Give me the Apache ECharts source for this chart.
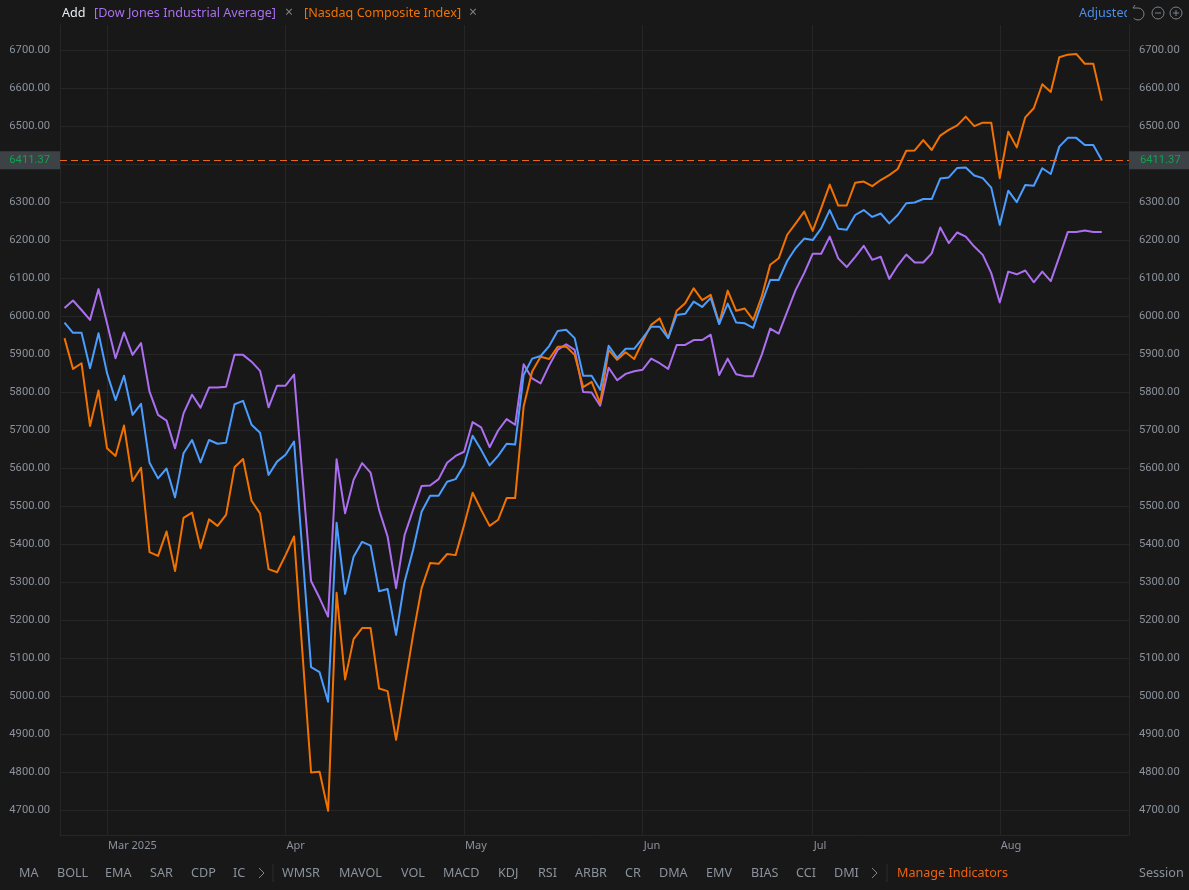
<!DOCTYPE html>
<html><head><meta charset="utf-8">
<style>html,body{margin:0;padding:0;background:#181818}#c{width:1189px;height:890px}</style>
<script src="https://cdn.jsdelivr.net/npm/echarts@6/dist/echarts.min.js"></script>
</head><body><div id="c"></div>
<script>
const dow = [6022,6042,6017,5991,6072,5982,5890,5958,5899,5930,5802,5741,5726,5653,5745,5794,5760,5813,5813,5815,5899,5899,5881,5857,5761,5818,5818,5847,5575,5304,5259,5210,5624,5482,5570,5614,5589,5491,5421,5285,5425,5491,5554,5555,5572,5615,5633,5644,5722,5708,5656,5700,5730,5715,5874,5837,5824,5871,5912,5927,5912,5801,5800,5765,5865,5832,5849,5856,5860,5889,5877,5862,5925,5925,5938,5938,5952,5846,5889,5848,5843,5843,5899,5968,5955,6013,6070,6114,6165,6165,6210,6153,6130,6157,6186,6149,6157,6099,6134,6163,6142,6142,6166,6234,6193,6221,6210,6184,6162,6114,6037,6118,6111,6121,6090,6118,6093,6157,6222,6222,6226,6222,6222];
const spx = [5984,5957,5957,5864,5956,5851,5780,5844,5741,5770,5615,5574,5600,5524,5640,5675,5616,5675,5665,5668,5769,5778,5715,5694,5583,5618,5636,5671,5375,5077,5064,4986,5457,5270,5368,5407,5397,5277,5283,5162,5302,5386,5486,5528,5528,5565,5572,5609,5686,5649,5608,5633,5665,5663,5846,5889,5896,5922,5962,5965,5943,5844,5844,5807,5923,5891,5915,5915,5943,5973,5973,5943,6004,6007,6039,6025,6049,5980,6034,5984,5982,5970,6035,6096,6096,6146,6180,6205,6201,6232,6280,6231,6228,6267,6280,6262,6271,6245,6267,6298,6300,6309,6309,6363,6366,6391,6392,6371,6364,6339,6241,6331,6301,6346,6344,6390,6375,6447,6470,6470,6451,6451,6411.37];
const nasdaq = [5943,5862,5877,5712,5805,5653,5633,5713,5567,5602,5380,5370,5434,5330,5470,5484,5390,5466,5449,5478,5603,5625,5515,5482,5335,5327,5372,5421,5110,4800,4802,4699,5273,5045,5151,5180,5180,5021,5014,4886,5026,5162,5285,5351,5349,5375,5372,5451,5536,5491,5449,5465,5522,5522,5763,5855,5894,5888,5920,5921,5899,5814,5828,5772,5912,5886,5906,5888,5934,5978,5995,5943,6015,6035,6074,6043,6057,5982,6068,6015,6021,5991,6052,6136,6153,6215,6245,6276,6225,6285,6347,6292,6292,6352,6355,6343,6359,6372,6388,6436,6437,6464,6438,6476,6491,6503,6526,6501,6510,6510,6364,6486,6445,6524,6548,6611,6591,6682,6689,6691,6665,6665,6568];
const lastPrice = 6411.37;
const yTicks = [4700,4800,4900,5000,5100,5200,5300,5400,5500,5600,5700,5800,5900,6000,6100,6200,6300,6400,6500,6600,6700];
const monthIndex = [5,26,47,68,88,110];
const monthLabels = ['Mar 2025','Apr','May','Jun','Jul','Aug'];
const leftTabs = ['MA','BOLL','EMA','SAR','CDP','IC'];
const rightTabs = ['WMSR','MAVOL','VOL','MACD','KDJ','RSI','ARBR','CR','DMA','EMV','BIAS','CCI','DMI'];
const leftTabX = [19,57,105,150,191,233];
const rightTabX = [282,339,401,443,498,538,575,625,659,706,751,796,834];

const BG='#181818', GRID='#262626', TICK='#8b929b', FONT='"Noto Sans","Open Sans",sans-serif', NUM='Roboto,"Noto Sans",sans-serif';
const PURPLE='#ab6ff0', BLUE='#4b9dff', ORANGE='#f27200';
const yMin=4635.5, yMax=6767;
const chart = echarts.init(document.getElementById('c'),null,{renderer:'canvas'});
const yAxisBase = {type:'value',min:yMin,max:yMax,scale:true,
  axisLine:{show:true,onZero:false,lineStyle:{color:GRID}},
  axisTick:{show:false,customValues:yTicks},
  splitLine:{show:true,lineStyle:{color:GRID,width:1}},
  axisLabel:{customValues:yTicks,color:TICK,fontSize:11.2,fontFamily:NUM,formatter:v=>v.toFixed(2),margin:10,padding:[2,0,0,0]}};
const line=(name,data,color,extra)=>Object.assign({name,type:'line',data:data.map((v,i)=>[i,v]),showSymbol:false,symbol:'none',
  lineStyle:{color,width:2,join:'round'},itemStyle:{color},z:3,silent:true},extra||{});
const tag=(pos,al,pad)=>({show:true,position:pos,distance:0,formatter:()=>lastPrice.toFixed(2),color:'#12a150',fontSize:11.2,fontFamily:NUM,
  backgroundColor:'#3c4246',align:al,verticalAlign:'middle',lineHeight:18,padding:pad});
const txt=(s,x,y,fill,size)=>({type:'text',x,y,silent:true,z:20,style:{text:s,fill,fontSize:size||12.6,fontFamily:FONT,textVerticalAlign:'middle',verticalAlign:'middle'}});
const ln=(x1,y1,x2,y2,c,w)=>({type:'line',silent:true,z:22,shape:{x1,y1,x2,y2},style:{stroke:c,lineWidth:w||1}});
const ICON='#7c8288';
const chev=(x,y)=>({type:'polyline',silent:true,z:20,shape:{points:[[x,y-5],[x+5,y],[x,y+5]]},style:{stroke:'#7f868d',fill:null,lineWidth:1}});
const graphic=[
  txt('Add',62,13,'#e8edf2'),
  txt('[Dow Jones Industrial Average]',94,13,PURPLE),
  txt('×',285,13,'#7c8288',14),
  txt('[Nasdaq Composite Index]',304,13,ORANGE),
  txt('×',469,13,'#7c8288',14),
  txt('Adjusted',1079,13,'#4b8fe8'),
  {type:'rect',silent:true,z:21,shape:{x:1127,y:0,width:62,height:24},style:{fill:BG}},
  {type:'arc',silent:true,z:22,shape:{cx:1138,cy:14,r:6,startAngle:-Math.PI*0.5,endAngle:Math.PI*0.75},style:{stroke:ICON,fill:null,lineWidth:1}},
  ln(1133,8,1138,8,ICON),ln(1133,8,1135,5,ICON),
  {type:'circle',silent:true,z:22,shape:{cx:1158,cy:13,r:6},style:{stroke:ICON,fill:null,lineWidth:1}},
  ln(1155,13,1161,13,ICON),
  {type:'circle',silent:true,z:22,shape:{cx:1176,cy:13,r:6},style:{stroke:ICON,fill:null,lineWidth:1}},
  ln(1173,13,1179,13,ICON),ln(1176,10,1176,16,ICON),
  ...leftTabs.map((s,i)=>txt(s,leftTabX[i],873,TICK)),
  ...rightTabs.map((s,i)=>txt(s,rightTabX[i],873,TICK)),
  chev(259,873),chev(872,873),
  ln(273,864,273,882,'#2c2c2c'),ln(887,864,887,882,'#2c2c2c'),
  txt('Manage Indicators',897,873,'#ec6212'),
  txt('Session',1139,873,TICK)
];
chart.setOption({
  animation:false,backgroundColor:BG,
  grid:{left:60,right:60,top:25,bottom:55,show:false},
  xAxis:{type:'value',min:-0.53,max:125.2,
    axisLine:{show:true,onZero:false,lineStyle:{color:GRID}},
    axisTick:{show:false,customValues:monthIndex},
    splitLine:{show:true,lineStyle:{color:GRID}},
    axisLabel:{customValues:monthIndex,color:TICK,fontSize:11,fontFamily:FONT,margin:5,align:'left',padding:[0,0,0,1],
      formatter:v=>monthLabels[monthIndex.indexOf(v)]}},
  yAxis:[Object.assign({position:'left'},yAxisBase),
    Object.assign({},yAxisBase,{position:'right',splitLine:{show:false}})],
  series:[
    line('Dow Jones Industrial Average',dow,PURPLE),
    line('Nasdaq Composite Index',nasdaq,ORANGE),
    line('S&P 500',spx,BLUE,{markLine:{silent:true,symbol:'none',animation:false,
      lineStyle:{color:'#e8651a',type:[7,4],width:1},
      data:[{yAxis:lastPrice,label:tag('start','right',[0,10,0,10])},{yAxis:lastPrice,label:tag('end','left',[0,10,0,11])}]}})
  ],
  graphic
});
</script></body></html>
